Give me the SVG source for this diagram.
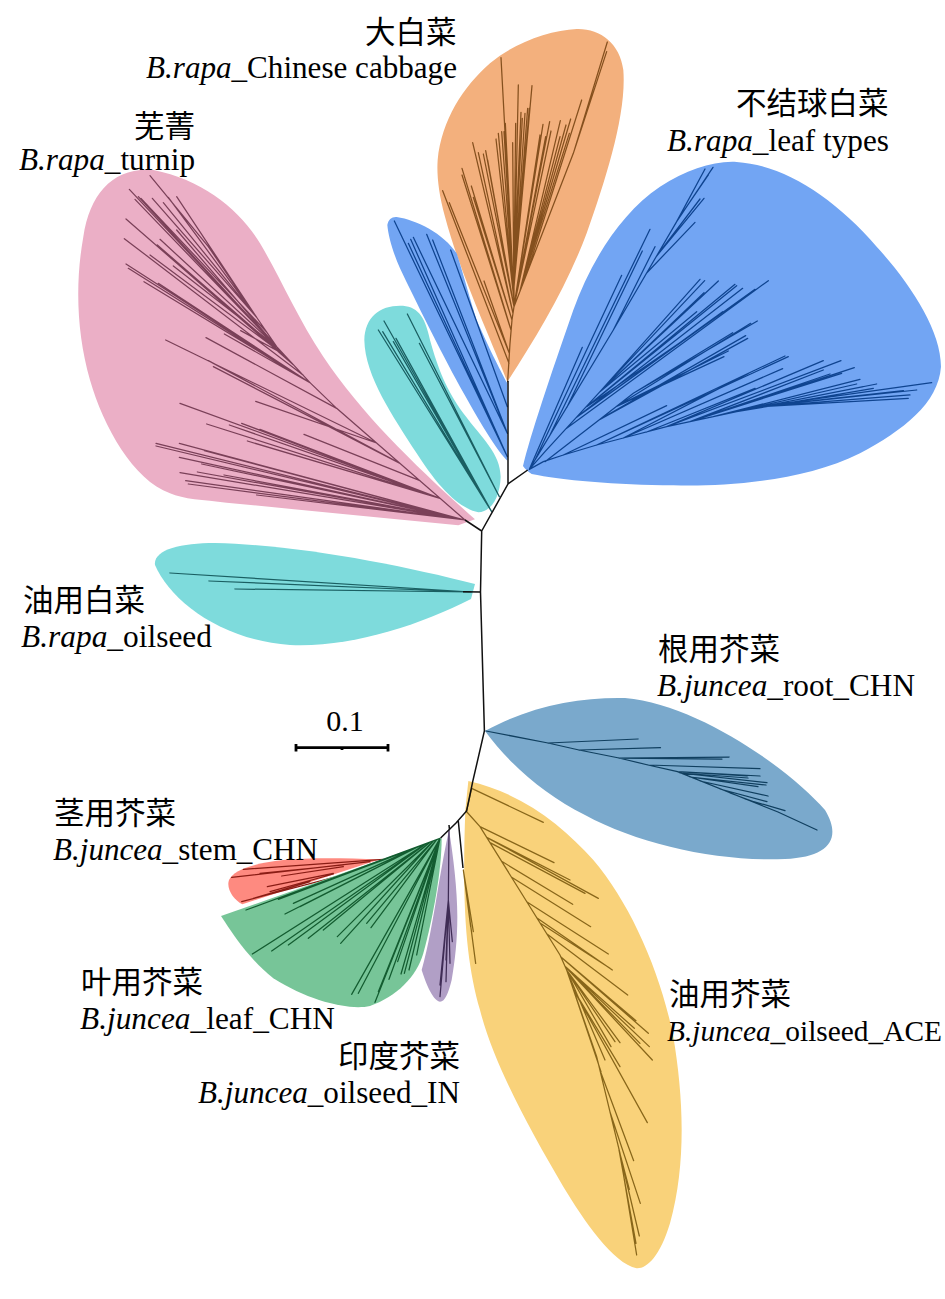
<svg xmlns="http://www.w3.org/2000/svg" width="945" height="1299" viewBox="0 0 945 1299">
<style>
text{font-family:"Liberation Serif","Noto Sans CJK SC",serif;font-size:31px;fill:#000}
.i{font-style:italic}
.c{font-family:"Noto Sans CJK SC","Liberation Serif",serif;font-size:30.5px}
.l{fill:none;stroke-width:1.25;vector-effect:non-scaling-stroke;stroke-linecap:round}
.k{fill:none;stroke:#111;stroke-width:1.5}
</style>
<rect width="945" height="1299" fill="#fff"/>
<g id="clade-turnip" transform="translate(70 160) scale(.33333)">
<path fill="#EBAFC6" d="M1215,1078C1050,930 880,770 760,590C680,470 630,350 570,250C510,150 400,60 250,30C130,20 60,100 40,230C15,370 20,520 60,660C100,800 190,960 300,1000C340,1018 400,1020 470,1028L1165,1096Z"/>
<path class="l" stroke="#7A4058" d="M1185,1080L800,745L720,668L620,560L415,260L240,47M620,560L178,88M620,560L195,118M620,560L205,110M590,516L213,115M560,472L247,115M560,472L280,128M560,472L295,112M560,472L320,110M620,560L320,210M620,560L270,238M645,587L262,255M670,614L168,177M700,646L163,236M645,587L240,285M620,560L310,318M720,668L168,312M720,668L175,325M720,668L222,365M720,668L265,370M640,582L512,512M720,668L463,522M800,745L408,533M920,849L287,540M990,910L415,602M990,910L430,620M920,849L557,724M1050,962L702,823M1110,1015L330,730M1110,1015L410,792M1110,1015L478,795M1110,1015L515,790M1110,1015L570,808M1110,1015L532,843M1185,1080L258,850M1185,1080L258,858M1185,1080L328,850M1185,1080L328,892M1185,1080L403,872M1185,1080L395,912M1185,1080L330,938M1185,1080L382,936M1185,1080L462,945M1185,1080L347,962M1185,1080L355,972M1185,1080L560,1005"/>
</g>
<g id="clade-orange" transform="translate(360 20) scale(.33333)">
<path fill="#F3B07D" d="M442,1085C390,950 300,760 255,590C235,520 230,460 233,420C245,300 310,200 390,130C460,70 570,30 650,27C720,25 780,70 790,150C800,280 740,470 680,640C620,800 530,950 442,1085Z"/>
<path class="l" stroke="#85501E" d="M443,1085L450,970L456,900L462,860L462,770M462,860L640,400L742,66M447,1030L248,512M448,1000L268,548M448,1000L372,783M453,930L306,445M453,930L306,465M456,900L334,498M456,900L340,532M459,880L338,368M459,880L355,398M462,860L370,402M462,860L377,392M462,860L383,420M462,840L423,113M462,840L408,357M462,840L415,340M462,840L425,335M462,840L432,335M462,840L436,310M462,860L458,368M462,800L475,195M462,770L467,310M462,770L483,277M462,770L487,295M462,800L495,280M462,800L503,265M462,800L508,265M462,800L516,197M462,860L549,313M462,860L540,345M462,860L557,350M462,860L569,305M462,860L573,333M480,813L601,302M480,813L600,350M480,813L618,315M480,813L632,297M480,813L628,340M500,762L665,240M640,400L740,95"/>
</g>
<g id="clade-blue-small" transform="translate(360 20) scale(.33333)">
<path fill="#72A5F3" d="M82,615C85,598 95,590 110,591C170,600 250,640 290,700C310,760 330,840 350,900C380,970 420,1050 442,1090L442,1322C400,1280 340,1170 300,1100C240,990 170,850 120,745C100,700 85,650 82,615Z"/>
<path class="l" stroke="#0F4490" d="M442,1310L103,603M442,1310L145,670M442,1310L152,658M442,1240L160,652M442,1240L200,643M442,1240L218,660M442,1160L272,690"/>
</g>
<g id="clade-teal-small" transform="translate(360 20) scale(.33333)">
<path fill="#7EDBDC" d="M13,960C15,890 60,857 120,857C170,857 195,885 210,960C235,1050 260,1110 310,1180C370,1260 420,1300 422,1370C420,1430 395,1475 355,1477C300,1465 240,1410 170,1300C100,1190 15,1070 13,960Z"/>
<path class="l" stroke="#1A5F62" d="M395,1475L55,930M395,1475L72,903M395,1475L108,955M395,1475L100,965M395,1475L68,935M418,1430L142,882M418,1430L178,970"/>
</g>
<g id="clade-leaf" transform="translate(500 150) scale(.33333)">
<path fill="#72A5F3" d="M69,948C90,860 150,680 220,480C270,340 360,190 480,110C560,60 640,32 710,36C850,45 1000,140 1130,290C1230,400 1323,540 1323,650C1315,760 1210,840 1080,910C900,1000 650,1010 520,1006C350,1005 180,990 95,972C85,965 75,958 69,948Z"/>
<path class="l" stroke="#0F4490" d="M88,958L340,540L530,215L639,52M530,215L615,57M560,170L625,75M470,318L612,145M470,318L600,147M440,369L585,217M105,930L365,376M88,958L247,592M150,855L450,238M200,773L427,303M340,540L465,290M88,958L135,905L300,725L600,388M300,725L614,392M300,725L655,393M300,725L612,428M300,725L590,485M260,770L705,403M260,770L710,407M230,802L728,415M200,835L805,392M230,802L765,418M230,802L668,485M260,770L595,540M135,935L300,808L400,730L772,513M350,769L752,520M400,730L698,548M300,808L737,557M300,808L743,565M350,769L685,603M350,769L672,620M88,958L130,935L190,915L290,885L370,864L500,830L640,800L780,770L1225,745M190,915L500,767M290,885L865,620M290,885L855,618M370,864L745,670M370,864L848,656M440,846L765,715M500,830L970,632M500,830L1023,632M570,815L970,660M570,815L1063,653M570,815L1025,670M570,815L990,672M640,800L1080,688M640,800L1070,702M710,785L1130,702M710,785L1090,710M710,785L1120,715M780,770L1295,698M780,770L1250,720M780,770L1230,735M780,770L1210,722"/>
</g>
<g id="clade-oilseed-rapa">
<path fill="#7EDBDC" d="M475,584L471,599C420,625 350,648 290,645C220,640 170,600 155,565C153,550 180,543 215,543C300,545 400,565 475,584Z"/>
<path class="l" stroke="#1A5F62" d="M471,592L170,573M471,592L209,581M471,592L235,589"/>
</g>
<g id="clade-root">
<path fill="#7AA9CC" d="M485,731C530,706 580,697 625,698C700,705 790,770 825,810C842,838 830,857 785,859C720,862 640,845 585,815C545,795 510,765 485,731Z"/>
<path class="l" stroke="#103F5F" d="M486,731L548,743L579,750L619,758L648,765L677.5,771.7L778,812L817,830M548,743L638,739M579,750L660.5,747.7M619,758L729,757M619,758L722,759M648,765L760,768.7M677.5,771.7L760,776M677.5,771.7L747,776M680,773L748,778M680,773L767,782.7M690,777L766,785M690,777L758,786.7M700,781L768,796M720,789L767,801.7M730,793L760,804M745,799L785,810.7"/>
</g>
<g id="clade-oilseed-juncea" transform="translate(450 770) scale(.33333)">
<path fill="#F9D27A" d="M55,33C220,70 340,170 430,270C540,400 630,600 670,800C700,980 710,1180 660,1360C630,1460 590,1497 560,1495C490,1480 400,1350 340,1250C240,1080 130,880 90,720C50,580 35,420 46,120Z"/>
<path class="l" stroke="#88661A" d="M65,55L280,157M50,122L65,55M48,123L90,170L330,555L350,600L440,860L510,1150L560,1455M90,170L312,278M110,202L360,330M110,202L445,385M120,218L405,370M155,274L368,403M185,322L422,470M230,395L475,552M260,443L487,600M270,459L480,595M290,491L533,675M332,560L558,752M332,560L595,790M345,589L553,775M345,589L598,830M345,589L607,870M345,589L570,820M350,600L510,818M350,600L495,815M350,600L483,830M350,600L465,870M360,629L453,905M370,658L510,890M370,658L592,1058M450,901L551,1172M480,1026L571,1300M507,1140L568,1398M507,1140L538,1258M507,1140L558,1420M40,300L77,580M40,300L70,485M40,300L62,470"/>
</g>
<g id="clade-stem" transform="translate(210 770) scale(.33333)">
<path fill="#FE8A80" d="M97,403L510,268C400,264 300,262 220,270C130,280 70,300 57,330C48,355 70,390 97,403Z"/>
<path class="l" stroke="#8A1C14" d="M520,268L100,298M480,275L65,322M400,285L150,310M400,290L215,318M370,310L172,350M370,312L180,365M380,320L95,395M300,335L130,385"/>
</g>
<g id="clade-leaf-chn" transform="translate(210 770) scale(.33333)">
<path fill="#77C598" d="M33,438L695,205C695,300 670,440 640,550C620,620 560,680 480,708C420,722 300,695 190,625C120,570 70,495 33,438Z"/>
<path class="l" stroke="#135C30" d="M690,205L108,420M640,225L205,388M620,232L240,375M620,232L250,400M620,232L270,410M620,232L225,432M650,220L127,552M650,220L185,543M650,220L235,525M660,217L295,505M660,217L340,480M670,213L382,500M670,213L392,520M680,209L470,460M680,209L483,473M690,205L425,673M690,205L445,670M690,205L495,697M690,205L505,665M690,205L537,628M690,205L563,575M690,205L573,612M690,205L583,610M690,205L597,600M690,205L620,555"/>
</g>
<g id="clade-indian" transform="translate(210 770) scale(.33333)">
<path fill="#B19FC6" d="M717,180C730,260 742,360 742,440C742,510 735,570 725,630C715,670 705,695 690,695C665,690 645,630 635,600C655,530 670,440 680,380C695,290 708,220 717,180Z"/>
<path class="l" stroke="#3F2C55" d="M717,180L715,390L690,680M715,390L690,645M715,390L708,635M715,390L720,580M715,390L708,570M715,390L727,515"/>
</g>
<g id="connectors">
<path class="k" d="M508,381L508,484M527.7,470L508,484L481.7,531M465,520L481.7,531L480.5,592L484.4,731L472.7,781.7L466.6,811L456,823L440.6,838M463,591.7L480.5,592M458.3,821L463,868M449,825L449.5,830"/>
<path d="M296,747.7H388M296,744V751.5M388,744V751.5M342,747.7V750" fill="none" stroke="#000" stroke-width="2.8"/>
</g>
<g id="labels">
<text x="345" y="731" text-anchor="middle" style="font-size:30px">0.1</text>
<text class="c" x="365" y="43">大白菜</text>
<text x="146" y="78" textLength="311" lengthAdjust="spacingAndGlyphs"><tspan class="i">B.rapa</tspan>_Chinese cabbage</text>
<text class="c" x="736" y="114">不结球白菜</text>
<text x="667" y="151" textLength="222" lengthAdjust="spacingAndGlyphs"><tspan class="i">B.rapa</tspan>_leaf types</text>
<text class="c" x="134" y="137">芜菁</text>
<text x="19" y="170" textLength="176" lengthAdjust="spacingAndGlyphs"><tspan class="i">B.rapa</tspan>_turnip</text>
<text class="c" x="23" y="611">油用白菜</text>
<text x="21" y="647" textLength="191" lengthAdjust="spacingAndGlyphs"><tspan class="i">B.rapa</tspan>_oilseed</text>
<text class="c" x="658" y="660">根用芥菜</text>
<text x="657" y="696" textLength="258" lengthAdjust="spacingAndGlyphs"><tspan class="i">B.juncea</tspan>_root_CHN</text>
<text class="c" x="54" y="824">茎用芥菜</text>
<text x="53" y="860" textLength="265" lengthAdjust="spacingAndGlyphs"><tspan class="i">B.juncea</tspan>_stem_CHN</text>
<text class="c" x="81" y="993">叶用芥菜</text>
<text x="80" y="1029" textLength="255" lengthAdjust="spacingAndGlyphs"><tspan class="i">B.juncea</tspan>_leaf_CHN</text>
<text class="c" x="338" y="1067">印度芥菜</text>
<text x="198" y="1103" textLength="262" lengthAdjust="spacingAndGlyphs"><tspan class="i">B.juncea</tspan>_oilseed_IN</text>
<text class="c" x="669" y="1005">油用芥菜</text>
<text x="667" y="1041" textLength="275" lengthAdjust="spacingAndGlyphs" style="font-size:30px"><tspan class="i">B.juncea</tspan>_oilseed_ACE</text>
</g>
</svg>
